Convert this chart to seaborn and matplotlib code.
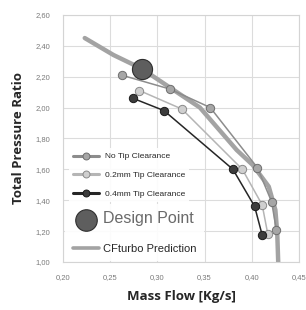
import numpy as np
import pandas as pd
import seaborn as sns
import matplotlib.pyplot as plt
from matplotlib.lines import Line2D
from matplotlib.ticker import FuncFormatter, MultipleLocator

# --- data ---
no_tip_x = [0.262, 0.313, 0.356, 0.406, 0.421, 0.426]
no_tip_y = [2.21, 2.12, 2.00, 1.61, 1.39, 1.21]

tip02_x = [0.281, 0.326, 0.390, 0.411, 0.417]
tip02_y = [2.11, 1.99, 1.60, 1.37, 1.18]

tip04_x = [0.274, 0.307, 0.380, 0.403, 0.411]
tip04_y = [2.06, 1.98, 1.60, 1.36, 1.175]

design_x = [0.284]
design_y = [2.25]

cfturbo_x = [0.223, 0.2535, 0.284, 0.296, 0.345, 0.384, 0.401, 0.418, 0.425, 0.427, 0.428]
cfturbo_y = [2.45, 2.34, 2.25, 2.20, 2.00, 1.725, 1.628, 1.488, 1.337, 1.186, 1.00]

series_labels = ["No Tip Clearance", "0.2mm Tip Clearance", "0.4mm Tip Clearance"]
other_labels = ["Design Point", "CFturbo Prediction"]

sns.set_theme(style="white")
plt.rcParams["font.family"] = ["Liberation Sans", "DejaVu Sans"]

fig = plt.figure(figsize=(3.06, 3.10), dpi=100)
ax = fig.add_axes([0.206, 0.155, 0.771, 0.797])

# CFturbo prediction curve
sns.lineplot(x=cfturbo_x, y=cfturbo_y, sort=False, color="#a3a3a3", lw=3.2,
             ax=ax, zorder=2)

# measured series
series = [
    (no_tip_x, no_tip_y, "#8c8c8c", "#a6a6a6", "#6e6e6e"),
    (tip02_x, tip02_y, "#b5b5b5", "#cfcfcf", "#8a8a8a"),
    (tip04_x, tip04_y, "#262626", "#3c3c3c", "#1a1a1a"),
]
for xs, ys, lc, fc, ec in series:
    sns.lineplot(x=xs, y=ys, sort=False, color=lc, lw=1.1, marker="o",
                 markersize=6, markerfacecolor=fc, markeredgecolor=ec,
                 markeredgewidth=0.7, ax=ax, zorder=3)

# design point
sns.scatterplot(x=design_x, y=design_y, s=210, color="#5e5e5e",
                edgecolor="#2e2e2e", linewidth=0.8, ax=ax, zorder=4)

ax.set_xlim(0.20, 0.45)
ax.set_ylim(1.00, 2.60)
ax.xaxis.set_major_locator(MultipleLocator(0.05))
ax.yaxis.set_major_locator(MultipleLocator(0.2))
ax.xaxis.set_major_formatter(FuncFormatter(lambda v, p: f"{v:.2f}".replace(".", ",")))
ax.yaxis.set_major_formatter(FuncFormatter(lambda v, p: f"{v:.2f}".replace(".", ",")))
ax.tick_params(labelsize=5.5, colors="#7a7a7a", length=0, pad=9)
ax.grid(True, color="#dcdcdc", lw=0.8)
for s in ax.spines.values():
    s.set_color("#d4d4d4")
    s.set_linewidth(0.8)

ax.set_xlabel("Mass Flow [Kg/s]", fontsize=9.5, fontweight="bold",
              family=["Open Sans", "DejaVu Sans"], labelpad=6)
ax.set_ylabel("Total Pressure Ratio", fontsize=9.5, fontweight="bold",
              family=["Open Sans", "DejaVu Sans"], labelpad=8)

# --- legends: two stacked boxes so row spacing can differ ---
def series_handle(lc, fc, ec):
    return Line2D([], [], color=lc, lw=2.2, marker="o", markersize=5,
                  markerfacecolor=fc, markeredgecolor=ec, markeredgewidth=0.7)

h1 = [series_handle(*s[2:]) for s in series]
h2 = [Line2D([], [], ls="none", marker="o", markersize=15.5,
             markerfacecolor="#5e5e5e", markeredgecolor="#2e2e2e", markeredgewidth=0.8),
      Line2D([], [], color="#a3a3a3", lw=2.6)]

common = dict(frameon=True, framealpha=0.9, edgecolor="none", fancybox=False,
              borderaxespad=0, bbox_transform=fig.transFigure)
leg2 = ax.legend(h2, other_labels, loc="lower left", bbox_to_anchor=(0.214, 0.157),
                 handlelength=2.35, handletextpad=0.36, labelspacing=1.56,
                 borderpad=0.68, fontsize=8, **common)
t2 = leg2.get_texts()
t2[0].set_fontsize(11.5)
t2[0].set_color("#6a6a6a")
leg2.set_zorder(5)
ax.add_artist(leg2)

leg1 = ax.legend(h1, series_labels, loc="lower left", bbox_to_anchor=(0.2248, 0.3485),
                 handlelength=3.12, handletextpad=0.7, labelspacing=1.3,
                 borderpad=0.5, fontsize=6, **common)
leg1.set_zorder(5)

fig.savefig("out.png", dpi=100)
plt.close()
